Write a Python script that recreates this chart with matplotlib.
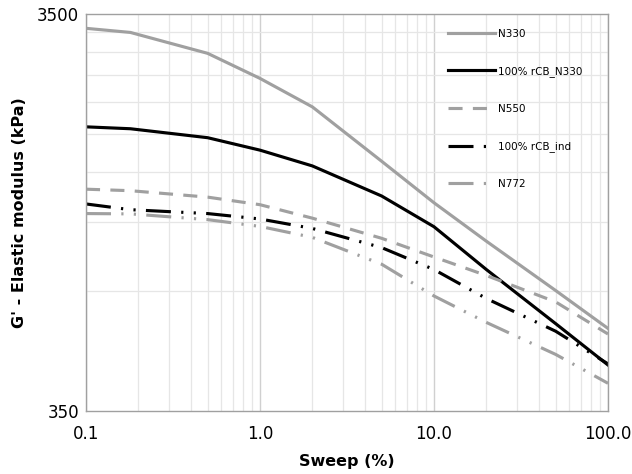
import matplotlib
matplotlib.use("Agg")
import matplotlib.pyplot as plt
from matplotlib.ticker import FixedLocator, FixedFormatter, NullFormatter

# strain sweep points (%)
sweep = [0.1, 0.18, 0.5, 1, 2, 5, 10, 20, 50, 100]

# G' (kPa)
n330 = [3221, 3145, 2786, 2409, 2042, 1490, 1171, 937, 704, 565]
rcb_n330 = [1819, 1799, 1708, 1589, 1450, 1218, 1019, 795, 581, 457]
n550 = [1267, 1256, 1210, 1158, 1071, 953, 855, 768, 659, 547]
rcb_ind = [1163, 1125, 1100, 1066, 1009, 903, 795, 672, 556, 460]
n772 = [1100, 1098, 1062, 1021, 958, 820, 682, 585, 486, 411]

x_ticks = [0.1, 1, 10, 100]
x_labels = ["0.1", "1.0", "10.0", "100.0"]
y_ticks = [350, 3500]
y_labels = ["350", "3500"]

gray = "#A0A0A0"
lw = 2.25

fig = plt.figure(figsize=(6.32, 4.74), dpi=100)
ax = fig.add_axes([86 / 632, 1 - 411 / 474, 522 / 632, 397 / 474])

ax.plot(sweep, n330, color=gray, lw=lw, label="N330")
ax.plot(sweep, rcb_n330, color="black", lw=lw, label="100% rCB_N330")
ax.plot(sweep, n550, color=gray, lw=lw, dashes=(4.5, 3.3), label="N550")
ax.plot(sweep, rcb_ind, color="black", lw=lw,
        dashes=(8, 3.3, 0.7, 3.3, 0.7, 3.3), label="100% rCB_ind")
ax.plot(sweep, n772, color=gray, lw=lw,
        dashes=(8, 3.3, 0.7, 3.3, 0.7, 3.3), label="N772")

ax.set_xscale("log")
ax.set_yscale("log")
ax.set_xlim(0.1, 100)
ax.set_ylim(350, 3500)

ax.xaxis.set_major_locator(FixedLocator(x_ticks))
ax.xaxis.set_major_formatter(FixedFormatter(x_labels))
x_minor = [m * d for d in [0.1, 1, 10] for m in range(2, 10)]
ax.xaxis.set_minor_locator(FixedLocator(x_minor))
ax.xaxis.set_minor_formatter(NullFormatter())

ax.yaxis.set_major_locator(FixedLocator(y_ticks))
ax.yaxis.set_major_formatter(FixedFormatter(y_labels))
ax.yaxis.set_minor_locator(FixedLocator([350 * k for k in range(2, 10)]))
ax.yaxis.set_minor_formatter(NullFormatter())

ax.tick_params(which="both", length=0, labelsize=12, colors="black")
ax.tick_params(axis="x", pad=10)
ax.tick_params(axis="y", pad=5)

ax.grid(which="minor", color="#E6E6E6", lw=0.9)
ax.grid(which="major", axis="x", color="#D0D0D0", lw=1.0)
ax.set_axisbelow(True)
for s in ax.spines.values():
    s.set_color(gray)
    s.set_linewidth(1.0)

ax.set_xlabel("Sweep (%)", fontsize=11.5, fontweight="bold", labelpad=8)
ax.set_ylabel("G' - Elastic modulus (kPa)", fontsize=11.5, fontweight="bold",
              labelpad=7)

fig.legend(loc="upper left", bbox_to_anchor=(448 / 632, 1 - 29 / 474),
           frameon=False, fontsize=7.5, handlelength=4.5, handletextpad=0.3,
           labelspacing=2.6, borderpad=0, borderaxespad=0)

fig.savefig("out.png", dpi=100)
